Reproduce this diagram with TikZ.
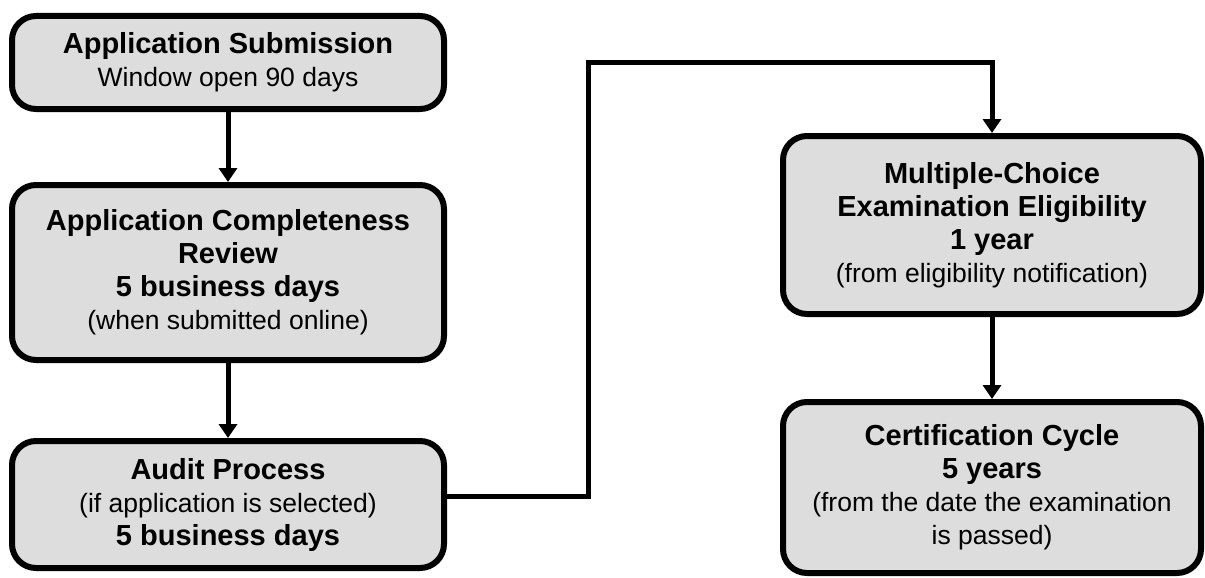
\documentclass[tikz,border=0pt]{standalone}
\usepackage{fontspec}
\setmainfont{Liberation Sans}
\usetikzlibrary{arrows.meta}
\definecolor{boxfill}{RGB}{221,221,221}
\newcommand\hdline[1]{{\fontsize{29}{33}\selectfont\bfseries #1}}
\begin{document}
\begin{tikzpicture}[x=1pt,y=-1pt,
  box/.style={draw=black, line width=6pt, fill=boxfill, rounded corners=24pt,
    align=center, inner sep=0pt, font=\fontsize{26.5}{33}\selectfont},
  conn/.style={line width=5pt, -{Triangle[width=18pt,length=14pt]}}]
\useasboundingbox (0,0) rectangle (1205,578);
\node[box, minimum width=432pt, minimum height=93pt] (b1) at (228,62.5)
  {\hdline{Application Submission}\\Window open 90 days};
\node[box, minimum width=432pt, minimum height=175pt] (b2) at (228,272.5)
  {\hdline{Application Completeness}\\\hdline{Review}\\\hdline{5 business days}\\(when submitted online)};
\node[box, minimum width=432pt, minimum height=127pt] (b3) at (228,504.5)
  {\hdline{Audit Process}\\(if application is selected)\\\hdline{5 business days}};
\node[box, minimum width=418pt, minimum height=178pt] (b4) at (992,225)
  {\hdline{Multiple-Choice}\\\hdline{Examination Eligibility}\\\hdline{1 year}\\(from eligibility notification)};
\node[box, minimum width=418pt, minimum height=171pt] (b5) at (992,487.5)
  {\hdline{Certification Cycle}\\\hdline{5 years}\\(from the date the examination\\is passed)};
\coordinate (k1) at (588,496);
\coordinate (k2) at (588,63);
\draw[conn] (b1.south) -- (b2.north);
\draw[conn] (b2.south) -- (b3.north);
\draw[conn] (b3.east |- k1) -- (k1) -- (k2) -- (k2 -| b4.north) -- (b4.north);
\draw[conn] (b4.south) -- (b5.north);
\end{tikzpicture}
\end{document}
